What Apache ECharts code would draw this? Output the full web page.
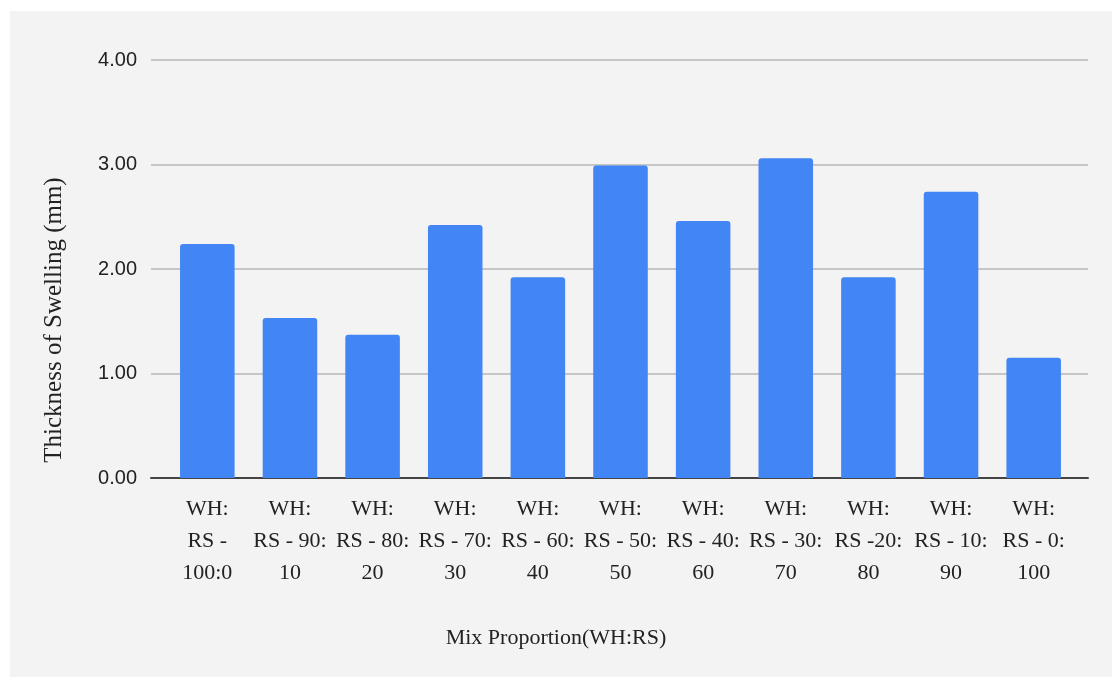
<!DOCTYPE html>
<html>
<head>
<meta charset="utf-8">
<script src="https://cdn.jsdelivr.net/npm/echarts@6/dist/echarts.min.js"></script>
<style>
  html, body { margin: 0; padding: 0; background: #ffffff; }
  #chart { width: 1112px; height: 677px; }
</style>
</head>
<body>
<div id="chart"></div>
<script>
// Mix proportions of WH:RS and the measured thickness of swelling (mm)
const categories = [
  'WH:\nRS -\n100:0',
  'WH:\nRS - 90:\n10',
  'WH:\nRS - 80:\n20',
  'WH:\nRS - 70:\n30',
  'WH:\nRS - 60:\n40',
  'WH:\nRS - 50:\n50',
  'WH:\nRS - 40:\n60',
  'WH:\nRS - 30:\n70',
  'WH:\nRS -20:\n80',
  'WH:\nRS - 10:\n90',
  'WH:\nRS - 0:\n100'
];
const swelling = [2.24, 1.53, 1.37, 2.42, 1.92, 2.99, 2.46, 3.06, 1.92, 2.74, 1.15];
const yTicks = [0, 1, 2, 3, 4];
const xTitle = 'Mix Proportion(WH:RS)';
const yTitle = 'Thickness of Swelling (mm)';

const serif = '"Liberation Serif", "DejaVu Serif", serif';
const sans = '"Liberation Sans", Arial, sans-serif';
const yMin = yTicks[0], yMax = yTicks[yTicks.length - 1];

const chart = echarts.init(document.getElementById('chart'), null, { renderer: 'canvas' });
chart.setOption({
  backgroundColor: '#ffffff',
  animation: false,
  graphic: [
    {
      type: 'rect', z: -10, silent: true,
      shape: { x: 10, y: 11, width: 1102, height: 666 },
      style: { fill: '#f3f3f3' }
    },
    {
      type: 'text', left: 'center', top: 627,
      style: { text: xTitle, font: '22px ' + serif, fill: '#222222' }
    },
    {
      type: 'text', x: 54, y: 320, rotation: Math.PI / 2,
      style: { text: yTitle, font: '25px ' + serif, fill: '#222222', align: 'center', verticalAlign: 'middle' }
    }
  ],
  // grid 0: full-width frame (gridlines, value labels, baseline)
  // grid 1: inset band that holds the category bars
  grid: [
    { left: 151, right: 24, top: 60, bottom: 199 },
    { left: 166, right: 37, top: 60, bottom: 199 }
  ],
  xAxis: [
    {
      gridIndex: 0, type: 'value', min: 0, max: 1,
      axisLine: { show: true, onZero: false, lineStyle: { color: '#444444', width: 2 } },
      axisTick: { show: false }, axisLabel: { show: false }, splitLine: { show: false }
    },
    {
      gridIndex: 1, type: 'category', data: categories,
      axisLine: { show: false },
      axisTick: { show: false },
      axisLabel: {
        interval: 0, margin: 15,
        fontFamily: serif, fontSize: 22, lineHeight: 32, color: '#222222', align: 'center'
      }
    }
  ],
  yAxis: [
    {
      gridIndex: 0, type: 'value', min: yMin, max: yMax, interval: 1,
      axisLine: { show: false },
      axisTick: { show: false },
      splitLine: { lineStyle: { color: '#c6c6c6', width: 2 } },
      axisLabel: {
        margin: 14, fontFamily: sans, fontSize: 20, color: '#222222',
        formatter: v => v.toFixed(2)
      }
    },
    {
      gridIndex: 1, type: 'value', min: yMin, max: yMax, interval: 1,
      axisLine: { show: false }, axisTick: { show: false },
      axisLabel: { show: false }, splitLine: { show: false }
    }
  ],
  series: [{
    type: 'bar',
    xAxisIndex: 1, yAxisIndex: 1,
    data: swelling,
    barCategoryGap: '34%',
    z: 3,
    itemStyle: { color: '#4285f4', borderRadius: [3, 3, 0, 0] }
  }]
});
</script>
</body>
</html>
